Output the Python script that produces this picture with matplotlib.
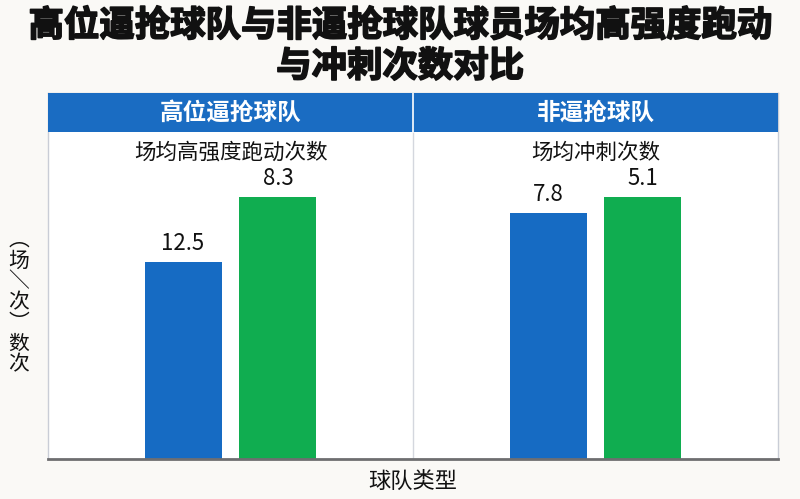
import matplotlib
matplotlib.use('Agg')
import matplotlib.pyplot as plt
import matplotlib.patheffects as pe
from matplotlib.patches import Rectangle

plt.rcParams['font.family'] = ['Noto Sans CJK SC', 'DejaVu Sans']

team_types = ['高位逼抢球队', '非逼抢球队']
metrics = ['场均高强度跑动次数', '场均冲刺次数']
# bar heights as drawn (no y scale shown), and the labels printed on them
blue_heights = [9.7, 12.1]
green_heights = [12.9, 12.9]
blue_labels = ['12.5', '7.8']
green_labels = ['8.3', '5.1']

title = '高位逼抢球队与非逼抢球队球员场均高强度跑动\n与冲刺次数对比'
xlabel = '球队类型'
ylabel = '︵场＼次︶数次'

blue = '#166bc3'
green = '#10ad50'
header_blue = '#1a6cc2'

fig = plt.figure(figsize=(8, 4.99), dpi=100, facecolor='#faf9f6')
ax = fig.add_axes([48 / 800, 1 - 459 / 499, 730 / 800, 366 / 499])
ax.set_facecolor('white')

x = range(len(team_types))
bw = 0.211
off = 0.13
ax.bar([i - off for i in x], blue_heights, width=bw, color=blue, zorder=2)
ax.bar([i + off for i in x], green_heights, width=bw, color=green, zorder=2)
ax.set_xlim(-0.5, 1.5)
ax.set_ylim(0, 18)

for i in x:
    ax.text(i - off, blue_heights[i] + 0.35, blue_labels[i], ha='center', va='bottom',
            fontsize=16, color='#111111')
    ax.text(i + off, green_heights[i] + 0.35, green_labels[i], ha='center', va='bottom',
            fontsize=16, color='#111111')

# header bands and subtitles
hb = (459 - 132) / 366
for i, (name, metric) in enumerate(zip(team_types, metrics)):
    ax.add_patch(Rectangle((i * 0.5, hb), 0.5, 1 - hb, transform=ax.transAxes,
                           facecolor=header_blue, edgecolor='none', zorder=3, clip_on=False))
    ax.text(i * 0.5 + 0.25, (hb + 1) / 2, name, transform=ax.transAxes, ha='center',
            va='center', fontsize=17, fontweight='bold', color='white', zorder=4)
    ax.text(i * 0.5 + 0.25, (459 - 153) / 366, metric, transform=ax.transAxes,
            ha='center', va='center', fontsize=15.5, color='#111111')

ax.axvline(0.5, ymin=0, ymax=hb, color='#d4d7de', lw=1, zorder=1)
ax.axvline(0.5, ymin=hb, ymax=1, color='white', lw=1.2, zorder=5)

for side in ['left', 'right', 'top']:
    ax.spines[side].set_color('#c9cdd6')
    ax.spines[side].set_linewidth(1)
ax.spines['bottom'].set_color('#6e6e70')
ax.spines['bottom'].set_linewidth(2)
ax.set_xticks([])
ax.set_yticks([])

fig.text(0.5, 1 - 46 / 499, title, ha='center', va='center', fontsize=25.5,
         fontweight='heavy', color='#111111', linespacing=1.2,
         path_effects=[pe.withStroke(linewidth=1.2, foreground='#111111')])
fig.text(413 / 800, 1 - 481 / 499, xlabel, ha='center', va='center', fontsize=16,
         color='#111111')
fig.text(19 / 800, 1 - 302 / 499, '\n'.join(ylabel), ha='center', va='center',
         fontsize=15, color='#111111', linespacing=0.92)

fig.savefig('out.png', dpi=100, facecolor=fig.get_facecolor())
